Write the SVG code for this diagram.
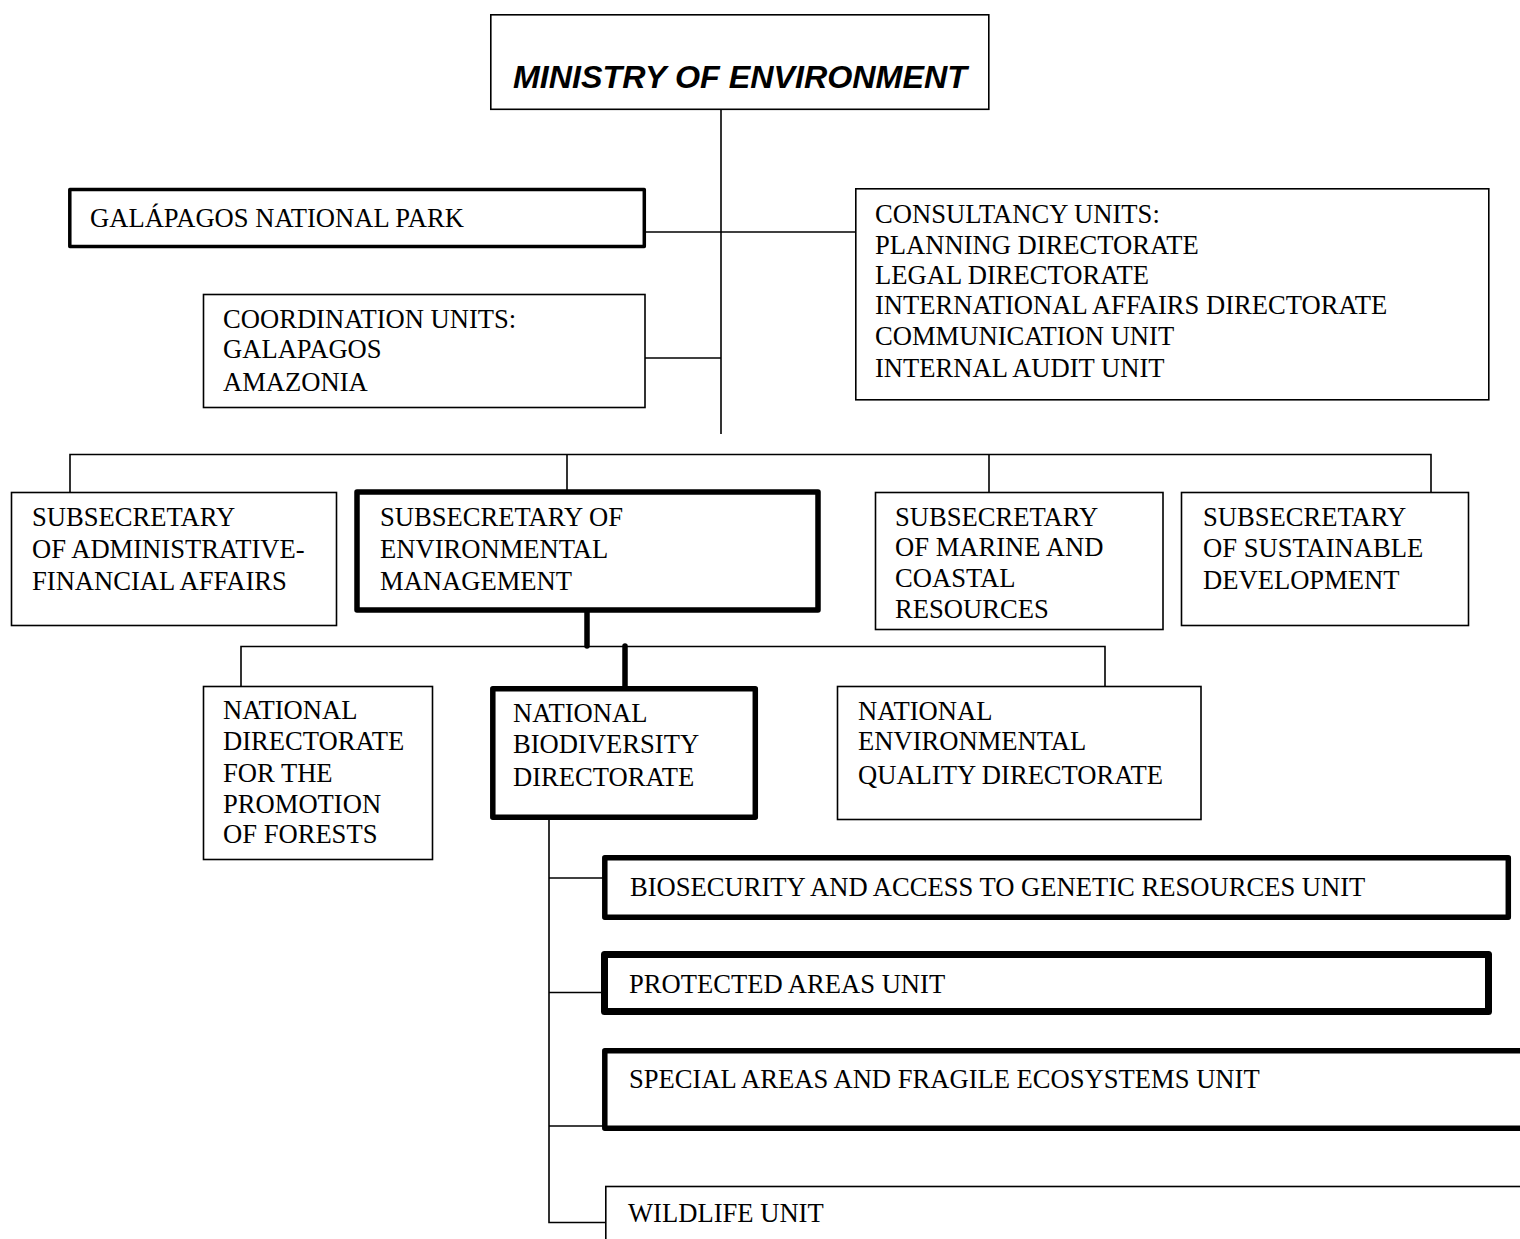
<svg xmlns="http://www.w3.org/2000/svg" width="1520" height="1239" viewBox="0 0 1520 1239">
<style>
  .box { fill: #ffffff; stroke: #000000; stroke-width: 1.6; }
  .thick { fill: #ffffff; stroke: #000000; stroke-width: 5.5; stroke-linejoin: round; }
  .thicker { fill: #ffffff; stroke: #000000; stroke-width: 7; stroke-linejoin: round; }
  .med { fill: #ffffff; stroke: #000000; stroke-width: 3.5; stroke-linejoin: round; }
  .t { font-family: "Liberation Serif", "Times New Roman", serif; font-size: 26.6px; fill: #000000; }
  .title { font-family: "Liberation Sans", Arial, sans-serif; font-size: 32px; font-weight: bold; font-style: italic; fill: #000000; }
  .ln { stroke: #000000; stroke-width: 1.6; fill: none; }
  .lnb { stroke: #000000; stroke-width: 5.5; fill: none; stroke-linecap: round; }
</style>
<rect x="0" y="0" width="1520" height="1239" fill="#ffffff"/>

<g id="connectors">
  <line class="ln" x1="721" y1="110" x2="721" y2="434"/>
  <line class="ln" x1="645" y1="232" x2="855" y2="232"/>
  <line class="ln" x1="645" y1="358" x2="721" y2="358"/>
  <polyline class="ln" points="70,492 70,454.5 1431,454.5 1431,493"/>
  <line class="ln" x1="567" y1="454.5" x2="567" y2="491"/>
  <line class="ln" x1="989" y1="454.5" x2="989" y2="492"/>
  <polyline class="ln" points="241,686 241,646.5 1105,646.5 1105,686"/>
  <line class="lnb" x1="587" y1="612" x2="587" y2="646"/>
  <line class="lnb" x1="625" y1="646" x2="625" y2="686"/>
  <polyline class="ln" points="549,820 549,1222.5 605,1222.5"/>
  <line class="ln" x1="549" y1="878" x2="603" y2="878"/>
  <line class="ln" x1="549" y1="992.5" x2="602" y2="992.5"/>
  <line class="ln" x1="549" y1="1126" x2="603" y2="1126"/>
</g>

<g id="ministry">
  <rect class="box" x="490.8" y="14.8" width="498" height="94.5"/>
  <text class="title" x="513" y="88" textLength="454" lengthAdjust="spacingAndGlyphs">MINISTRY OF ENVIRONMENT</text>
</g>

<g id="galapagos-park">
  <rect class="med" x="69.8" y="189.5" width="574.5" height="57"/>
  <text class="t" x="90" y="227">GALÁPAGOS NATIONAL PARK</text>
</g>

<g id="consultancy">
  <rect class="box" x="855.8" y="188.8" width="633" height="211"/>
  <text class="t" x="875" y="223">CONSULTANCY UNITS:</text>
  <text class="t" x="875" y="254">PLANNING DIRECTORATE</text>
  <text class="t" x="875" y="284">LEGAL DIRECTORATE</text>
  <text class="t" x="875" y="314">INTERNATIONAL AFFAIRS DIRECTORATE</text>
  <text class="t" x="875" y="345">COMMUNICATION UNIT</text>
  <text class="t" x="875" y="377">INTERNAL AUDIT UNIT</text>
</g>

<g id="coordination">
  <rect class="box" x="203.5" y="294.5" width="441.5" height="113"/>
  <text class="t" x="223" y="328">COORDINATION UNITS:</text>
  <text class="t" x="223" y="358">GALAPAGOS</text>
  <text class="t" x="223" y="391">AMAZONIA</text>
</g>

<g id="sub-admin">
  <rect class="box" x="11.5" y="492.5" width="325" height="133"/>
  <text class="t" x="32" y="526">SUBSECRETARY</text>
  <text class="t" x="32" y="558">OF ADMINISTRATIVE-</text>
  <text class="t" x="32" y="590">FINANCIAL AFFAIRS</text>
</g>

<g id="sub-env">
  <rect class="thick" x="357" y="492" width="461" height="118"/>
  <text class="t" x="380" y="526">SUBSECRETARY OF</text>
  <text class="t" x="380" y="558">ENVIRONMENTAL</text>
  <text class="t" x="380" y="590">MANAGEMENT</text>
</g>

<g id="sub-marine">
  <rect class="box" x="875.5" y="492.5" width="287.5" height="137"/>
  <text class="t" x="895" y="526">SUBSECRETARY</text>
  <text class="t" x="895" y="556">OF MARINE AND</text>
  <text class="t" x="895" y="587">COASTAL</text>
  <text class="t" x="895" y="618">RESOURCES</text>
</g>

<g id="sub-sustainable">
  <rect class="box" x="1181.5" y="492.5" width="287" height="133"/>
  <text class="t" x="1203" y="526">SUBSECRETARY</text>
  <text class="t" x="1203" y="557">OF SUSTAINABLE</text>
  <text class="t" x="1203" y="589">DEVELOPMENT</text>
</g>

<g id="forests">
  <rect class="box" x="203.5" y="686.5" width="229" height="173"/>
  <text class="t" x="223" y="719">NATIONAL</text>
  <text class="t" x="223" y="750">DIRECTORATE</text>
  <text class="t" x="223" y="782">FOR THE</text>
  <text class="t" x="223" y="813">PROMOTION</text>
  <text class="t" x="223" y="843">OF FORESTS</text>
</g>

<g id="biodiversity">
  <rect class="thick" x="492.8" y="688.8" width="262.5" height="128.5"/>
  <text class="t" x="513" y="722">NATIONAL</text>
  <text class="t" x="513" y="753">BIODIVERSITY</text>
  <text class="t" x="513" y="786">DIRECTORATE</text>
</g>

<g id="quality">
  <rect class="box" x="837.5" y="686.5" width="363.5" height="133"/>
  <text class="t" x="858" y="720">NATIONAL</text>
  <text class="t" x="858" y="750">ENVIRONMENTAL</text>
  <text class="t" x="858" y="784">QUALITY DIRECTORATE</text>
</g>

<g id="biosecurity">
  <rect class="thick" x="604.8" y="857.8" width="903.5" height="59.5"/>
  <text class="t" x="630" y="896">BIOSECURITY AND ACCESS TO GENETIC RESOURCES UNIT</text>
</g>

<g id="protected">
  <rect class="thicker" x="604.5" y="954.5" width="884" height="57"/>
  <text class="t" x="629" y="993">PROTECTED AREAS UNIT</text>
</g>

<g id="special">
  <rect class="thick" x="604.8" y="1050.8" width="1000" height="77.5"/>
  <text class="t" x="629" y="1088">SPECIAL AREAS AND FRAGILE ECOSYSTEMS UNIT</text>
</g>

<g id="wildlife">
  <rect class="box" x="605.8" y="1186.5" width="1000" height="100"/>
  <text class="t" x="628" y="1222">WILDLIFE UNIT</text>
</g>
</svg>
